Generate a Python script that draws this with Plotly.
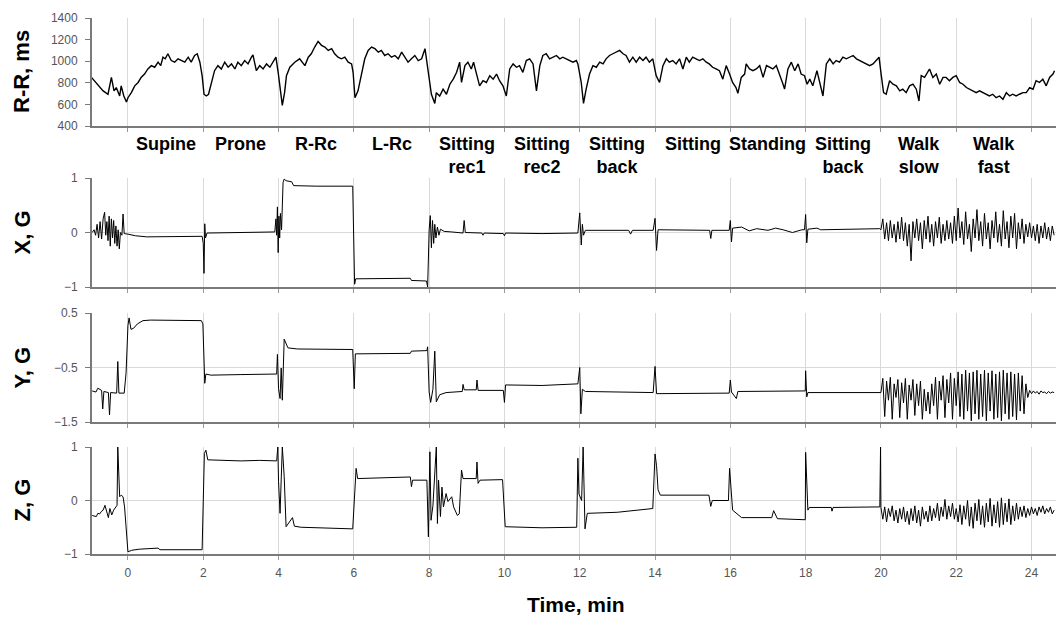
import numpy as np
import plotly.graph_objects as go

# ---------------- data ----------------
position_labels = ["Supine", "Prone", "R-Rc", "L-Rc", "Sitting<br>rec1", "Sitting<br>rec2",
                   "Sitting<br>back", "Sitting", "Standing", "Sitting<br>back", "Walk<br>slow", "Walk<br>fast"]
position_centers = [1, 3, 5, 7, 9, 11, 13, 15, 17, 19, 21, 23]
time_ticks = [0, 2, 4, 6, 8, 10, 12, 14, 16, 18, 20, 22, 24]

rr_samples = [(-0.97,850),(-0.89,819),(-0.80,787),(-0.66,725),(-0.53,694),(-0.44,850),(-0.37,725),(-0.31,756),(-0.22,678),(-0.18,772),(-0.11,678),(-0.04,622),(0.00,662),(0.09,709),(0.18,772),(0.27,803),(0.35,850),(0.44,881),(0.53,928),(0.62,959),(0.71,944),(0.80,991),(0.87,959),(0.93,1037),(0.99,1022),(1.06,1069),(1.15,1006),(1.24,991),(1.33,1022),(1.42,1006),(1.51,991),(1.60,1037),(1.68,991),(1.77,1053),(1.84,1069),(1.91,991),(1.97,866),(2.02,694),(2.08,678),(2.14,694),(2.22,803),(2.30,912),(2.39,959),(2.48,928),(2.57,991),(2.66,944),(2.75,975),(2.84,928),(2.92,991),(3.01,959),(3.10,1006),(3.19,975),(3.28,1037),(3.32,1059),(3.41,912),(3.50,959),(3.59,928),(3.68,975),(3.77,944),(3.85,991),(3.93,1037),(3.99,897),(4.05,709),(4.10,591),(4.16,709),(4.21,866),(4.30,944),(4.43,991),(4.56,1022),(4.70,959),(4.79,1037),(4.87,1069),(4.96,1131),(5.05,1184),(5.14,1147),(5.23,1131),(5.32,1100),(5.41,1116),(5.49,1069),(5.58,1037),(5.67,1022),(5.76,1037),(5.85,991),(5.94,975),(5.98,897),(6.03,662),(6.11,725),(6.20,881),(6.29,1022),(6.38,1100),(6.47,1131),(6.56,1116),(6.65,1084),(6.73,1100),(6.82,1053),(6.91,1069),(7.00,1037),(7.09,1053),(7.18,1022),(7.27,1084),(7.36,1037),(7.44,991),(7.53,1022),(7.62,1053),(7.71,1006),(7.80,1022),(7.89,1116),(7.93,1022),(8.02,803),(8.06,694),(8.15,609),(8.19,709),(8.28,678),(8.37,741),(8.46,694),(8.55,787),(8.64,834),(8.73,897),(8.81,991),(8.86,803),(8.95,959),(9.03,991),(9.12,928),(9.18,991),(9.26,881),(9.34,772),(9.43,819),(9.52,803),(9.61,866),(9.70,834),(9.79,881),(9.87,819),(9.96,772),(10.05,678),(10.14,928),(10.23,975),(10.32,944),(10.40,959),(10.49,897),(10.58,1006),(10.67,1022),(10.76,975),(10.85,725),(10.94,959),(11.02,1053),(11.11,1069),(11.20,1022),(11.29,1037),(11.38,1053),(11.47,1022),(11.55,1037),(11.64,1022),(11.73,1006),(11.82,991),(11.91,1006),(11.95,975),(12.04,803),(12.10,609),(12.17,741),(12.26,881),(12.35,959),(12.44,944),(12.53,991),(12.62,975),(12.70,1022),(12.79,1053),(12.88,1069),(12.97,1084),(13.06,1100),(13.15,1069),(13.23,1053),(13.32,991),(13.41,1037),(13.50,991),(13.59,1037),(13.68,1006),(13.76,1037),(13.85,991),(13.94,1022),(14.03,866),(14.12,803),(14.21,959),(14.30,1022),(14.38,991),(14.47,1006),(14.56,975),(14.65,1022),(14.74,928),(14.83,1037),(14.91,991),(15.00,1037),(15.09,1022),(15.18,1006),(15.27,1022),(15.36,991),(15.44,975),(15.53,944),(15.62,928),(15.71,912),(15.80,834),(15.89,959),(15.98,881),(16.06,803),(16.15,756),(16.20,703),(16.29,850),(16.38,881),(16.42,975),(16.51,928),(16.60,912),(16.69,928),(16.78,959),(16.87,850),(16.96,959),(17.04,944),(17.13,928),(17.22,959),(17.31,881),(17.40,787),(17.44,741),(17.53,928),(17.62,991),(17.71,912),(17.80,975),(17.88,881),(17.97,866),(18.04,787),(18.11,834),(18.19,772),(18.30,912),(18.37,803),(18.46,678),(18.55,975),(18.64,1022),(18.73,975),(18.81,1006),(18.90,991),(18.99,1037),(19.08,1022),(19.17,1037),(19.26,1053),(19.35,1022),(19.43,1006),(19.52,991),(19.61,975),(19.70,959),(19.79,975),(19.88,1006),(19.95,1037),(20.01,866),(20.07,709),(20.14,694),(20.23,819),(20.32,787),(20.41,772),(20.50,725),(20.58,741),(20.67,709),(20.76,772),(20.85,787),(20.94,741),(21.01,631),(21.07,866),(21.16,850),(21.25,912),(21.29,928),(21.38,850),(21.47,881),(21.56,787),(21.65,850),(21.73,850),(21.82,819),(21.91,850),(22.00,866),(22.09,803),(22.18,787),(22.27,756),(22.35,741),(22.44,725),(22.53,709),(22.62,725),(22.71,709),(22.80,694),(22.88,678),(22.97,694),(23.06,662),(23.15,678),(23.24,647),(23.33,709),(23.42,678),(23.50,694),(23.59,678),(23.68,694),(23.77,709),(23.86,709),(23.95,756),(24.04,741),(24.12,819),(24.21,803),(24.30,834),(24.39,772),(24.48,850),(24.57,881),(24.61,912)]

x_samples = [(-0.95,0.0),(-0.90,0.05),(-0.86,-0.05),(-0.82,0.15),(-0.78,-0.10),(-0.74,0.20),(-0.70,-0.12),(-0.66,0.25),(-0.62,0.37),(-0.59,-0.05),(-0.56,0.20),(-0.53,-0.15),(-0.50,0.30),(-0.47,-0.25),(-0.44,0.25),(-0.41,-0.10),(-0.38,0.22),(-0.35,-0.20),(-0.32,0.12),(-0.29,-0.25),(-0.26,0.05),(-0.23,-0.30),(-0.20,0.0),(-0.16,-0.05),(-0.13,0.34),(-0.10,-0.02),(0.0,-0.03),(0.2,-0.06),(0.5,-0.08),(1.0,-0.08),(1.5,-0.07),(1.97,-0.07),(2.00,-0.20),(2.02,-0.75),(2.04,0.16),(2.06,-0.10),(2.10,-0.01),(3.0,0.0),(3.9,0.01),(3.93,0.25),(3.95,-0.05),(3.97,0.47),(3.99,-0.37),(4.01,0.30),(4.03,-0.10),(4.05,0.35),(4.08,0.05),(4.12,0.92),(4.15,0.98),(4.20,0.95),(4.35,0.93),(4.40,0.86),(5.0,0.85),(5.97,0.85),(6.02,-0.95),(6.05,-0.85),(7.5,-0.84),(7.53,-0.88),(7.93,-0.89),(7.96,-1.0),(8.0,0.05),(8.03,0.31),(8.06,-0.28),(8.09,0.22),(8.12,-0.20),(8.15,0.15),(8.18,-0.10),(8.22,0.10),(8.26,-0.05),(8.30,0.06),(8.40,0.02),(8.60,0.01),(8.90,-0.01),(8.93,0.22),(8.96,0.0),(9.40,-0.01),(9.43,-0.05),(9.46,-0.01),(9.97,-0.02),(10.0,-0.06),(10.03,-0.01),(11.0,-0.02),(11.95,-0.01),(12.0,0.36),(12.04,-0.23),(12.07,0.15),(12.10,-0.05),(12.15,0.04),(13.30,0.04),(13.35,-0.03),(13.40,0.04),(13.95,0.04),(14.0,0.26),(14.04,-0.33),(14.08,0.05),(15.45,0.04),(15.48,-0.11),(15.51,0.04),(15.97,0.04),(16.0,0.22),(16.03,-0.17),(16.06,0.08),(16.3,0.10),(16.5,0.03),(16.7,0.07),(17.0,0.04),(17.2,0.08),(17.4,0.05),(17.65,0.0),(17.9,0.05),(17.97,0.05),(18.0,0.33),(18.03,-0.19),(18.06,0.06),(18.3,0.08),(18.4,0.05),(19.97,0.07)]

y_samples = [(-0.95,-0.93),(-0.85,-0.95),(-0.80,-0.88),(-0.70,-0.92),(-0.67,-1.26),(-0.64,-0.94),(-0.52,-0.96),(-0.49,-1.37),(-0.46,-0.96),(-0.30,-0.97),(-0.27,-0.39),(-0.24,-0.97),(-0.10,-0.97),(-0.05,-0.60),(0.0,0.27),(0.03,0.41),(0.08,0.20),(0.15,0.22),(0.25,0.30),(0.40,0.36),(0.6,0.37),(1.0,0.37),(1.95,0.36),(1.99,0.30),(2.02,-0.60),(2.04,-0.79),(2.07,-0.62),(2.2,-0.64),(3.0,-0.63),(3.95,-0.62),(3.97,-0.26),(4.0,-0.89),(4.04,-1.07),(4.07,-0.51),(4.10,-1.10),(4.15,0.02),(4.25,-0.14),(4.5,-0.16),(5.97,-0.17),(6.01,-0.89),(6.04,-0.25),(7.5,-0.24),(7.53,-0.20),(7.94,-0.19),(7.96,-0.12),(8.0,-0.95),(8.04,-1.14),(8.10,-0.90),(8.15,-0.20),(8.19,-1.13),(8.28,-1.0),(8.45,-0.96),(8.88,-0.94),(8.90,-0.81),(8.93,-0.91),(9.25,-0.91),(9.27,-0.73),(9.30,-0.92),(9.97,-0.92),(10.0,-1.14),(10.03,-0.82),(11.0,-0.83),(11.95,-0.80),(12.0,-0.50),(12.03,-1.35),(12.07,-0.90),(12.15,-0.94),(13.95,-0.96),(14.0,-0.48),(14.04,-0.98),(15.97,-0.97),(16.0,-0.73),(16.03,-0.95),(16.16,-1.07),(16.2,-0.94),(17.99,-0.93),(18.0,-0.56),(18.03,-1.04),(18.06,-0.96),(19.97,-0.96)]

z_samples = [(-0.95,-0.28),(-0.84,-0.30),(-0.80,-0.24),(-0.75,-0.25),(-0.70,-0.20),(-0.66,-0.18),(-0.61,-0.09),(-0.57,-0.21),(-0.52,-0.32),(-0.48,-0.15),(-0.43,-0.27),(-0.38,-0.18),(-0.34,-0.13),(-0.29,-0.09),(-0.27,1.0),(-0.25,0.57),(-0.22,0.07),(-0.18,0.10),(-0.13,0.07),(-0.09,-0.12),(-0.04,-0.68),(0.0,-0.96),(0.1,-0.93),(0.3,-0.91),(0.8,-0.89),(0.85,-0.92),(1.97,-0.92),(2.00,0.30),(2.03,0.88),(2.07,0.94),(2.12,0.76),(3.0,0.74),(3.5,0.75),(3.95,0.74),(3.98,1.0),(4.00,0.35),(4.04,-0.24),(4.10,1.0),(4.15,0.45),(4.20,-0.49),(4.30,-0.40),(4.37,-0.32),(4.42,-0.48),(4.6,-0.50),(5.97,-0.53),(6.03,0.15),(6.06,0.60),(6.10,0.41),(7.50,0.44),(7.53,0.26),(7.56,0.38),(7.94,0.38),(7.98,-0.68),(8.02,0.91),(8.05,-0.37),(8.10,-0.10),(8.19,1.0),(8.22,-0.43),(8.25,0.38),(8.30,-0.30),(8.34,0.25),(8.38,-0.12),(8.45,0.13),(8.50,-0.02),(8.60,0.07),(8.65,-0.12),(8.75,-0.28),(8.80,-0.25),(8.86,0.57),(8.90,0.41),(9.25,0.41),(9.27,0.72),(9.30,0.32),(9.35,0.38),(9.95,0.39),(10.02,-0.49),(11.0,-0.51),(11.92,-0.50),(11.95,0.79),(11.98,0.12),(12.05,0.0),(12.09,1.0),(12.14,-0.53),(12.20,-0.24),(13.0,-0.22),(13.94,-0.15),(14.0,0.87),(14.04,0.65),(14.08,0.20),(14.14,0.10),(15.43,0.10),(15.48,-0.11),(15.52,0.0),(15.95,0.0),(15.98,0.60),(16.06,-0.18),(16.3,-0.32),(17.1,-0.32),(17.15,-0.19),(17.25,-0.34),(17.99,-0.36),(18.0,0.90),(18.06,-0.18),(18.1,-0.13),(18.68,-0.13),(18.70,-0.20),(18.73,-0.13),(19.97,-0.12),(19.99,1.0)]

# walking segments, one reading every 0.05 min from t = 20 min
walk_start = 20.0
walk_step = 0.05
x_walk = [0.05,0.25,-0.12,0.18,-0.15,0.22,-0.10,0.15,-0.18,0.20,-0.12,0.28,-0.15,0.18,-0.25,0.15,-0.52,0.20,-0.10,0.25,-0.15,0.18,-0.30,0.22,-0.12,0.30,-0.18,0.15,-0.25,0.20,-0.10,0.28,-0.20,0.15,-0.15,0.22,-0.12,0.18,-0.20,0.30,-0.15,0.45,-0.10,0.20,-0.22,0.38,-0.12,0.15,-0.35,0.25,-0.10,0.42,-0.15,0.20,-0.25,0.35,-0.12,0.18,-0.30,0.22,-0.10,0.38,-0.18,0.15,-0.25,0.40,-0.12,0.20,-0.28,0.30,-0.10,0.35,-0.30,0.18,-0.12,0.25,-0.20,0.15,-0.08,0.18,-0.10,0.12,-0.15,0.15,-0.20,0.12,-0.10,0.18,-0.12,0.10,-0.15,0.12,-0.05]
y_walk = [-0.96,-0.70,-1.40,-0.75,-1.10,-0.68,-1.45,-0.80,-1.05,-0.72,-1.42,-0.78,-1.15,-0.70,-1.45,-0.82,-1.10,-0.72,-1.38,-0.80,-1.20,-0.75,-1.45,-0.90,-1.30,-0.95,-1.35,-0.80,-1.20,-0.68,-1.45,-0.75,-1.10,-0.65,-1.42,-0.72,-1.15,-0.60,-1.45,-0.70,-1.20,-0.58,-1.40,-0.62,-1.45,-0.55,-1.30,-0.60,-1.48,-0.58,-1.35,-0.55,-1.45,-0.62,-1.40,-0.55,-1.48,-0.60,-1.30,-0.56,-1.45,-0.62,-1.42,-0.58,-1.48,-0.55,-1.35,-0.60,-1.45,-0.58,-1.40,-0.62,-1.46,-0.60,-1.30,-0.65,-1.35,-0.80,-1.05,-0.92,-0.98,-0.93,-0.97,-0.94,-0.99,-0.93,-0.96,-0.95,-0.98,-0.94,-0.97,-0.95,-0.96]
z_walk = [-0.13,-0.35,-0.12,-0.40,-0.15,-0.30,-0.10,-0.38,-0.18,-0.42,-0.15,-0.35,-0.12,-0.40,-0.20,-0.45,-0.15,-0.38,-0.10,-0.42,-0.18,-0.48,-0.12,-0.35,-0.20,-0.40,-0.10,-0.38,-0.15,-0.32,-0.05,-0.38,-0.12,-0.30,0.02,-0.35,-0.10,-0.30,-0.05,-0.35,-0.15,-0.40,-0.08,-0.45,-0.10,-0.35,0.0,-0.48,-0.12,-0.52,-0.05,-0.38,0.02,-0.45,-0.10,-0.50,-0.05,-0.40,0.04,-0.48,-0.08,-0.42,-0.02,-0.50,0.05,-0.45,-0.05,-0.40,0.03,-0.45,-0.10,-0.38,-0.05,-0.35,-0.12,-0.30,-0.10,-0.32,-0.15,-0.28,-0.12,-0.25,-0.15,-0.28,-0.12,-0.22,-0.10,-0.25,-0.15,-0.22,-0.12,-0.25,-0.18]

# ---------------- assemble ----------------
def series(samples, walk=None):
    t = [p[0] for p in samples]
    v = [p[1] for p in samples]
    if walk is not None:
        t += [round(walk_start + walk_step * i, 2) for i in range(len(walk))]
        v += list(walk)
    return t, v

rr_t, rr_v = series(rr_samples)
x_t, x_v = series(x_samples, x_walk)
y_t, y_v = series(y_samples, y_walk)
z_t, z_v = series(z_samples, z_walk)

H = 618.0
def dom(top_px, bot_px):
    return [1 - bot_px / H, 1 - top_px / H]

panels = [
    dict(t=rr_t, v=rr_v, dom=dom(18, 126), rng=[400, 1400], ticks=[400, 600, 800, 1000, 1200, 1400],
         grid=False, title="R-R, ms", width=1.4),
    dict(t=x_t, v=x_v, dom=dom(178, 287), rng=[-1, 1], ticks=[-1, 0, 1], grid=True, title="X, G", width=1),
    dict(t=y_t, v=y_v, dom=dom(313, 422), rng=[-1.5, 0.5], ticks=[-1.5, -0.5, 0.5], grid=True, title="Y, G", width=1),
    dict(t=z_t, v=z_v, dom=dom(447, 554), rng=[-1, 1], ticks=[-1, 0, 1], grid=True, title="Z, G", width=1),
]

FONT = "Liberation Sans, Arial, sans-serif"
fig = go.Figure()
layout = dict(width=1056, height=618, margin=dict(l=92, r=0, t=0, b=0, autoexpand=False),
              paper_bgcolor="white", plot_bgcolor="white", showlegend=False,
              font=dict(family=FONT, color="#000"))
annotations = []
L = 92.0
W = 1056.0 - L
for i, p in enumerate(panels):
    n = "" if i == 0 else str(i + 1)
    fig.add_trace(go.Scatter(x=p["t"], y=p["v"], mode="lines",
                             line=dict(color="black", width=p["width"]),
                             xaxis="x" + n, yaxis="y" + n, hoverinfo="skip"))
    last = (i == len(panels) - 1)
    layout["xaxis" + n] = dict(
        domain=[0, 1], anchor="y" + n, range=[-0.955, 24.65], tickvals=time_ticks,
        automargin=False,
        showgrid=True, gridcolor="#d9d9d9", gridwidth=1, zeroline=False,
        showline=True, linecolor="#7a7a7a", linewidth=2,
        ticks="outside", ticklen=4, tickcolor="#9a9a9a",
        showticklabels=last, tickfont=dict(size=12, color="#555", family=FONT),
        ticklabelstandoff=3)
    layout["yaxis" + n] = dict(
        domain=p["dom"], anchor="x" + n, range=p["rng"], tickvals=p["ticks"],
        automargin=False,
        showgrid=p["grid"], gridcolor="#d9d9d9", gridwidth=1, zeroline=False,
        showline=True, linecolor="#7a7a7a", linewidth=2,
        ticks="outside", ticklen=5, tickcolor="#7a7a7a",
        tickfont=dict(size=12, color="#555", family=FONT), ticklabelstandoff=5)
    yc = (p["dom"][0] + p["dom"][1]) / 2
    annotations.append(dict(text="<b>%s</b>" % p["title"], xref="paper", yref="paper",
                            x=(22 - L) / W, y=yc, xanchor="center", yanchor="middle",
                            textangle=-90, showarrow=False,
                            font=dict(size=22, family=FONT, color="#000")))

for lab, c in zip(position_labels, position_centers):
    annotations.append(dict(text="<b>%s</b>" % lab, xref="x", yref="paper", x=c,
                            y=1 - 132 / H, xanchor="center", yanchor="top", showarrow=False,
                            font=dict(size=18, family=FONT, color="#000")))

annotations.append(dict(text="<b>Time, min</b>", xref="paper", yref="paper",
                        x=(576 - L) / W, y=1 - 604 / H, xanchor="center", yanchor="middle",
                        showarrow=False, font=dict(size=21, family=FONT, color="#000")))
layout["annotations"] = annotations
fig.update_layout(**layout)
fig.write_html("out.html", config={"displayModeBar": False},
               post_script="document.body.style.margin='0';document.body.style.overflow='hidden';")
